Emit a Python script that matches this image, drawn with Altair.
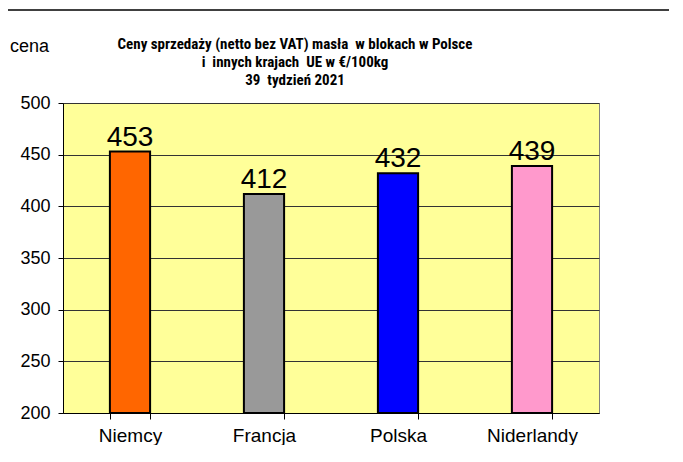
import altair as alt
import pandas as pd

countries = ["Niemcy", "Francja", "Polska", "Niderlandy"]
prices = [453, 412, 432, 439]
bar_colors = ["#FF6600", "#999999", "#0000FF", "#FF99CC"]
y_ticks = [200, 250, 300, 350, 400, 450, 500]
title_lines = [
    "Ceny sprzedaży (netto bez VAT) masła\u00a0 w blokach w Polsce",
    "i\u00a0 innych krajach\u00a0 UE w €/100kg",
    "39\u00a0 tydzień 2021",
]
y_title = "cena"

df = pd.DataFrame({"kraj": countries, "cena": prices})
one = pd.DataFrame({"k": [0]})

x_enc = alt.X(
    "kraj:N",
    sort=countries,
    scale=alt.Scale(paddingInner=0.70, paddingOuter=0.35),
    axis=alt.Axis(
        title=None,
        labelAngle=0,
        labelFont="Liberation Sans",
        labelFontSize=19,
        labelColor="#000000",
        labelPadding=7,
        tickBand="extent",
        tickSize=6,
        tickColor="#000000",
        domainColor="#000000",
        grid=False,
    ),
)
y_enc = alt.Y(
    "cena:Q",
    scale=alt.Scale(domain=[200, 500], nice=False, zero=False),
    axis=alt.Axis(
        values=y_ticks,
        title=y_title,
        titleAngle=0,
        titleAlign="center",
        titleBaseline="middle",
        titleX=-34,
        titleY=-57,
        titleFont="Liberation Sans",
        titleFontSize=18,
        titleFontWeight="normal",
        titleColor="#000000",
        labelFont="Liberation Sans",
        labelFontSize=18,
        labelColor="#000000",
        labelPadding=8,
        tickSize=5,
        tickColor="#000000",
        domainColor="#000000",
        grid=True,
        gridColor="#333333",
        gridWidth=1,
    ),
)

bars = alt.Chart(df).mark_bar(stroke="#000000", strokeWidth=2).encode(
    x=x_enc,
    y=y_enc,
    y2=alt.datum(200),
    color=alt.Color(
        "kraj:N",
        scale=alt.Scale(domain=countries, range=bar_colors),
        legend=None,
    ),
)

labels = alt.Chart(df).mark_text(
    baseline="alphabetic",
    dy=-6,
    font="Liberation Sans",
    fontSize=28,
    color="#000000",
).encode(
    x=alt.X("kraj:N", sort=countries),
    y="cena:Q",
    text="cena:Q",
)

title_text = alt.Chart(one).mark_text(
    align="center",
    baseline="alphabetic",
    font="Roboto Condensed, Roboto",
    fontSize=15,
    fontWeight="bold",
    lineHeight=18,
    color="#000000",
).encode(
    x=alt.value(232),
    y=alt.value(-54),
    text=alt.value(title_lines),
)

top_rule = alt.Chart(one).mark_rule(color="#000000", strokeWidth=1.5).encode(
    x=alt.value(-63), x2=alt.value(620), y=alt.value(-93)
)

chart = (
    alt.layer(bars, labels, title_text, top_rule)
    .properties(
        width=536,
        height=310,
        autosize=alt.AutoSizeParams(type="none"),
        padding={"left": 55, "top": 95, "right": 70, "bottom": 32},
        background="#FFFFFF",
    )
    .configure_view(fill="#FFFF99", stroke="#808080", strokeWidth=1)
)

chart.save("out.html", embed_options={"renderer": "svg", "actions": False})
